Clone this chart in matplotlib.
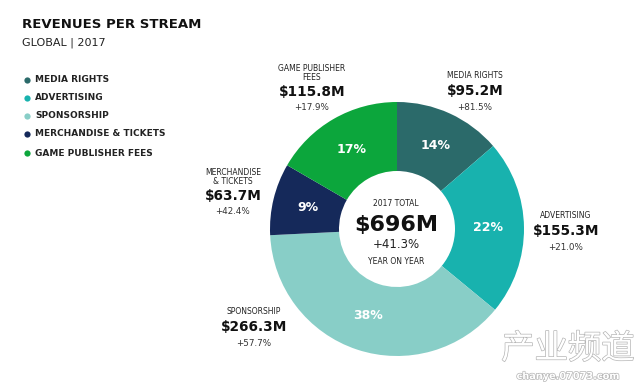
import matplotlib
matplotlib.use("Agg")
import matplotlib.pyplot as plt
import matplotlib.patheffects as pe
from matplotlib.lines import Line2D

categories = ["MEDIA RIGHTS", "ADVERTISING", "SPONSORSHIP", "MERCHANDISE & TICKETS", "GAME PUBLISHER FEES"]
values = [95.2, 155.3, 266.3, 63.7, 115.8]
growth = ["+81.5%", "+21.0%", "+57.7%", "+42.4%", "+17.9%"]
callout_names = ["MEDIA RIGHTS", "ADVERTISING", "SPONSORSHIP", "MERCHANDISE\n& TICKETS", "GAME PUBLISHER\nFEES"]
colors = ["#2b6a6a", "#18b2ae", "#88cec7", "#15295a", "#0ca63c"]
total_label = "$696M"
total_growth = "+41.3%"

W, H = 640, 384
fig = plt.figure(figsize=(W / 100, H / 100), dpi=100)
plt.rcParams['font.family'] = ['DejaVu Sans']

def fx(x):
    return x / W

def fy(y):
    return 1 - y / H

# Donut
cx, cy, R, r_in = 397, 229, 127, 58
ax = fig.add_axes([fx(cx - R), fy(cy + R), 2 * R / W, 2 * R / H])
wedges, texts, autotexts = ax.pie(values, colors=colors, startangle=90, counterclock=False,
                                  radius=1.0, wedgeprops=dict(width=1 - r_in / R, linewidth=0),
                                  autopct='%.0f%%', pctdistance=0.72,
                                  textprops=dict(color="white", fontsize=9, fontweight="bold"))
ax.set_xlim(-1, 1)
ax.set_ylim(-1, 1)
ax.set_aspect("auto")
ax.axis("off")

# Title
fig.text(fx(22), fy(25), "REVENUES PER STREAM", fontsize=9.5, fontweight="bold", color="#111111", va="center", ha="left")
fig.text(fx(22), fy(43), "GLOBAL | 2017", fontsize=8, color="#222222", va="center", ha="left")

# Legend
leg_y = [80, 98, 116, 134, 153]
for name, c, y in zip(categories, colors, leg_y):
    fig.add_artist(Line2D([fx(27)], [fy(y)], marker="o", markersize=4.5, color=c,
                          markeredgewidth=0, linestyle="none", transform=fig.transFigure))
    fig.text(fx(35), fy(y), name, fontsize=6.5, fontweight="bold", color="#222222", va="center", ha="left")

# Callouts: (x center, y of name line, y of amount, y of growth)
callout_pos = [
    (475, 75, 91, 107),
    (566, 215, 231, 247),
    (254, 312, 327, 343),
    (233, 177, 196, 212),
    (312, 73, 92, 107),
]
for name, v, g, (x, yn, ya, yg) in zip(callout_names, values, growth, callout_pos):
    fig.text(fx(x), fy(yn), name, fontsize=5.5, color="#222222", ha="center", va="center", linespacing=1.1)
    fig.text(fx(x), fy(ya), f"${v:.1f}M", fontsize=9.8, fontweight="bold", color="#111111", ha="center", va="center")
    fig.text(fx(x), fy(yg), g, fontsize=6.3, color="#333333", ha="center", va="center")

# Center
fig.text(fx(396), fy(204), "2017 TOTAL", fontsize=5.5, color="#222222", ha="center", va="center")
fig.text(fx(396), fy(225), total_label, fontsize=16, fontweight="bold", color="#111111", ha="center", va="center")
fig.text(fx(396), fy(245), total_growth, fontsize=8.5, color="#222222", ha="center", va="center")
fig.text(fx(396), fy(261), "YEAR ON YEAR", fontsize=5.5, color="#222222", ha="center", va="center")

# Watermark
fig.text(fx(568), fy(349), "产业频道", fontsize=24, color="white", ha="center", va="center",
         family=["Noto Sans CJK SC", "DejaVu Sans"],
         path_effects=[pe.withStroke(linewidth=1.0, foreground="#b5b5b5")])
fig.text(fx(568), fy(376), "chanye.07073.com", fontsize=7, color="white", ha="center", va="center",
         fontweight="bold", path_effects=[pe.withStroke(linewidth=1.0, foreground="#b5b5b5")])

fig.savefig("out.png", dpi=100)
